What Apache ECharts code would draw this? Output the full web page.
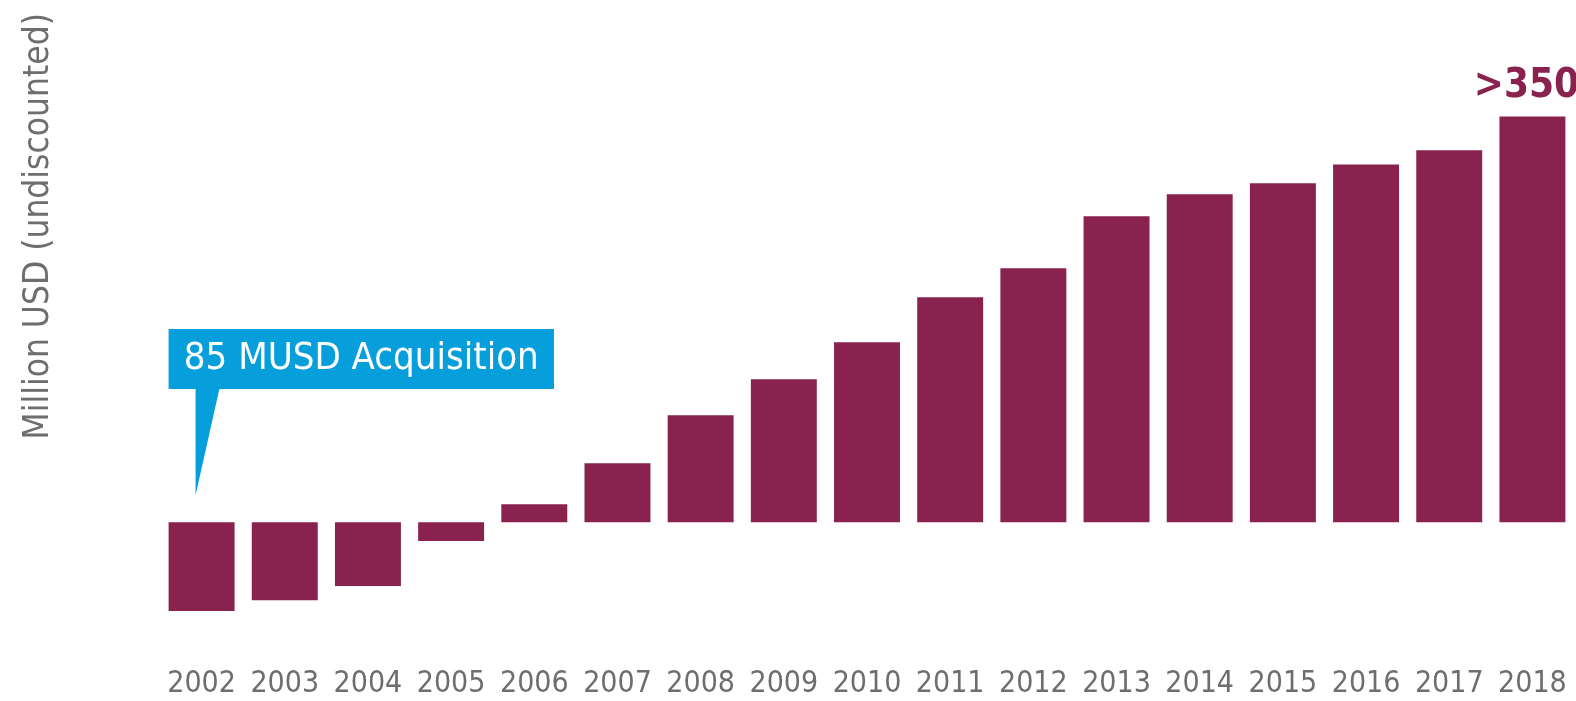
<!DOCTYPE html>
<html>
<head>
<meta charset="utf-8">
<script src="https://cdn.jsdelivr.net/npm/echarts@6/dist/echarts.min.js"></script>
<style>
html,body{margin:0;padding:0;background:#fff;}
#main{width:1576px;height:701px;}
</style>
</head>
<body>
<div id="main"></div>
<script>
const years = ['2002','2003','2004','2005','2006','2007','2008','2009','2010','2011','2012','2013','2014','2015','2016','2017','2018'];
const values = [-85, -74.7, -61, -18, 17.3, 56.5, 102.5, 137, 172.5, 215.6, 243.4, 293.3, 314.3, 324.9, 343, 356.5, 389];
const lastLabel = '>350';
const calloutText = '85 MUSD Acquisition';
const yTitle = 'Million USD (undiscounted)';

const barColor = '#8a2250';
const narrow = '"Liberation Sans Narrow", "DejaVu Sans Condensed", "Liberation Sans", sans-serif';

const chart = echarts.init(document.getElementById('main'));
const titleGraphic = {
  type: 'text', left: 21, top: 13, rotation: Math.PI / 2,
  style: {text: yTitle, fill: '#6e6e6e', fontSize: 35, fontFamily: narrow}
};
chart.setOption({
  animation: false,
  backgroundColor: '#fff',
  grid: {left: 160, right: 2, top: 104.9, bottom: 74.35, containLabel: false},
  xAxis: {
    type: 'category',
    data: years,
    axisLine: {show: false},
    axisTick: {show: false},
    axisLabel: {color: '#6e6e6e', fontSize: 30, fontFamily: narrow, margin: 43, interval: 0}
  },
  yAxis: {
    type: 'value', min: -100, max: 400, interval: 100,
    axisLine: {show: false}, axisTick: {show: false}, axisLabel: {show: false}, splitLine: {show: false}
  },
  series: [{
    type: 'bar',
    data: values.map((v, i) => i === values.length - 1 ? {
      value: v,
      label: {show: true, position: 'top', distance: 10, offset: [-6, 0], formatter: lastLabel,
        color: barColor, fontSize: 40, fontWeight: 'bold', fontFamily: narrow}
    } : v),
    barCategoryGap: '20.7%',
    itemStyle: {color: barColor}
  }],
  graphic: [titleGraphic]
});

// callout anchored to first bar
const p0 = chart.convertToPixel({xAxisIndex: 0, yAxisIndex: 0}, [0, 0]);
const barLeft = p0[0] - 33;
const boxTop = 329, boxBottom = 389, boxRight = 554;
chart.setOption({
  graphic: [
    titleGraphic,
    {type: 'rect', shape: {x: barLeft, y: boxTop, width: boxRight - barLeft, height: boxBottom - boxTop},
      style: {fill: '#079fdb'}},
    {type: 'polygon', shape: {points: [[barLeft + 27, boxBottom - 1], [barLeft + 51, boxBottom - 1], [barLeft + 27, p0[1] - 27]]},
      style: {fill: '#079fdb'}},
    {type: 'text', x: (barLeft + boxRight) / 2, y: (boxTop + boxBottom) / 2,
      style: {text: calloutText, fill: '#fff', fontSize: 38, fontFamily: narrow, align: 'center', verticalAlign: 'middle'}}
  ]
}, {replaceMerge: ['graphic']});
</script>
</body>
</html>
